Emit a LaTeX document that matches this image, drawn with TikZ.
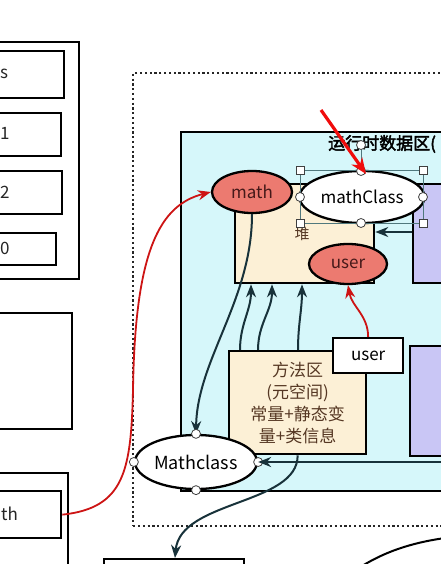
\documentclass[tikz,border=0pt]{standalone}
\usepackage{fontspec}
\setmainfont{Noto Sans CJK SC}[AutoFakeBold=2.5]
\usetikzlibrary{shapes.geometric, arrows.meta, positioning, calc}
\definecolor{cCyan}{RGB}{214,247,250}
\definecolor{cCream}{RGB}{252,240,214}
\definecolor{cSalmon}{RGB}{236,122,112}
\definecolor{cPurple}{RGB}{201,198,245}
\definecolor{cTeal}{RGB}{24,50,58}
\definecolor{cRed}{RGB}{205,20,20}
\definecolor{cPoint}{RGB}{240,12,12}
\definecolor{cBrown}{RGB}{85,55,35}
\definecolor{cDark}{RGB}{70,25,25}
\definecolor{cHandle}{RGB}{80,120,125}

\begin{document}
\begin{tikzpicture}[x=1pt, y=-1pt,
            blk/.style={draw=black, line width=2.3pt, inner sep=0pt, anchor=north west},
            ell/.style={ellipse, draw=black, line width=2.3pt, inner sep=0pt},
            lbl/.style={inner sep=0pt, font=\fontsize{17}{19}\selectfont, text=black!85},
            hnd/.style={circle, draw=black!75, fill=white, line width=0.8pt, minimum size=9pt, inner sep=0pt},
            hsq/.style={rectangle, draw=black!75, fill=white, line width=0.8pt, minimum size=8pt, inner sep=0pt},
            arr/.style={draw=cTeal, line width=2pt, -{Stealth[length=13pt, width=10pt]}},
            rarr/.style={draw=cRed, line width=1.8pt, -{Stealth[length=13pt, width=10pt]}}]
            \useasboundingbox (0,0) rectangle (441,564);
            \clip (0,0) rectangle (441,564);
            \fill[white] (0,0) rectangle (441,564);
            % left column
            \node[blk, minimum width=88, minimum height=237] (stk) at (-10,41) {};
            \node[blk, minimum width=73, minimum height=47] (s) at (-10,50) {};
            \node[blk, minimum width=70, minimum height=43] (one) at (-10,112) {};
            \node[blk, minimum width=71, minimum height=43] (two) at (-10,170) {};
            \node[blk, minimum width=65, minimum height=32] (zero) at (-10,232) {};
            \node[lbl, anchor=west] at (0,74) {s};
            \node[lbl, anchor=west] at (0,133) {1};
            \node[lbl, anchor=west] at (0,192) {2};
            \node[lbl, anchor=west] at (0,248) {0};
            \node[blk, minimum width=81, minimum height=116] (mid) at (-10,312) {};
            \node[blk, minimum width=77, minimum height=120] (low) at (-10,472) {};
            \node[blk, minimum width=70, minimum height=47] (th) at (-10,490) {};
            \node[lbl, anchor=west] at (1,514) {th};
            \node[blk, minimum width=140, minimum height=40] (out) at (103,558) {};
            % jvm
            \node[blk, draw=black!85, line width=2.4pt, dash pattern=on 2.2pt off 2.6pt,
                  minimum width=330, minimum height=453] (jvm) at (132,72) {};
            \node[blk, fill=cCyan, minimum width=280, minimum height=359] (rt) at (180,131) {};
            \node[anchor=west, inner sep=0pt, font=\fontsize{17}{19}\selectfont\bfseries] (title) at (328,144) {运行时数据区(};
            \node[blk, fill=cCream, minimum width=139, minimum height=99] (heap) at (234,183) {};
            \node[inner sep=0pt, text=cBrown, font=\fontsize{15}{17}\selectfont] (heaplbl) at (302,234) {堆};
            \node[blk, fill=cPurple, minimum width=50, minimum height=99] (p1) at (412,183) {};
            \node[blk, fill=cPurple, minimum width=52, minimum height=110] (p2) at (409,345) {};
            \node[blk, fill=cCream, minimum width=137, minimum height=103, align=center, text=cBrown,
                  font=\fontsize{17}{22}\selectfont] (meta) at (228,350)
                  {方法区\\(元空间)\\常量+静态变\\量+类信息};
            \node[blk, fill=white, minimum width=70, minimum height=35, font=\fontsize{17}{19}\selectfont] (ubox) at (332,337) {user};
            % links to heap
            \foreach \a/\b in {12/17, 30/38, 70/68}
                \draw[arr] ([xshift=\a]meta.north west) to[out=90, in=-90] ([xshift=\b]heap.south west);
            \node[ell, fill=cSalmon, minimum width=80, minimum height=42, text=cDark,
                  font=\fontsize{17}{19}\selectfont] (math) at (252,192) {math};
            \draw[arr] (math.south) .. controls (252,300) and (197,360) .. (196,434);
            \node[ell, fill=white, minimum width=125, minimum height=52,
                  font=\fontsize{17}{19}\selectfont] (mcls) at (362,197) {mathClass};
            \node[ell, fill=cSalmon, minimum width=78, minimum height=40, text=cDark,
                  font=\fontsize{17}{19}\selectfont] (user) at (348,264) {user};
            \node[ell, fill=white, minimum width=122, minimum height=54,
                  font=\fontsize{18}{20}\selectfont] (Mcls) at (196,462) {Mathclass};
            % selection handles
            \draw[cHandle, line width=0.8pt] (300,170) rectangle (423,223) (361,145) -- (361,170);
            \foreach \p in {(300,170), (423,170), (300,223), (423,223)} { \node[hsq] at \p {}; }
            \foreach \p in {(300,197), (423,197), (361,223), (361,145), (361,171)} { \node[hnd] at \p {}; }
            \foreach \p in {north, south, east, west} { \node[hnd] at (Mcls.\p) {}; }
            % other links
            \draw[arr] (p1.west |- 0,232) -- (heap.east |- 0,232);
            \coordinate (rin) at (445,462);
            \draw[arr] (rin) -- (Mcls.east);
            \draw[arr] (meta.south) .. controls (298,505) and (180,500) .. (out.north -| 175,0);
            \draw[rarr] (ubox.north) to[out=90, in=-80] (user.south);
            \draw[rarr] (th.east) .. controls (125,508) and (131,470) .. (133,390)
                        .. controls (135,250) and (160,205) .. (math.west);
            \coordinate (br1) at (362,566);
            \coordinate (br2) at (445,538);
            \draw[line width=2pt] (br1) .. controls (385,552) and (410,543) .. (br2);
            % pointer
            \coordinate (ptr) at (321,110);
            \draw[draw=cPoint, line width=3.2pt, -{Stealth[length=16pt, width=13pt]}] (ptr) -- (366,174);
        \end{tikzpicture}
\end{document}
